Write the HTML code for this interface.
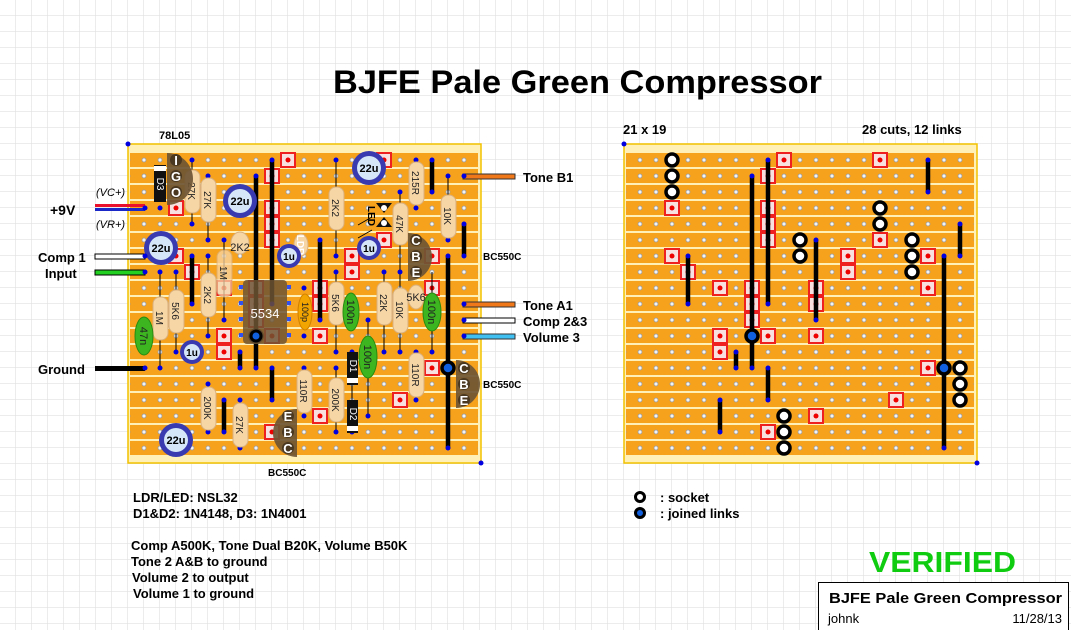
<!DOCTYPE html>
<html><head><meta charset="utf-8"><style>
html,body{margin:0;padding:0;background:#fff}
svg{display:block}
text{font-family:"Liberation Sans","DejaVu Sans",sans-serif}
.b{font-weight:bold}
.rt{font-size:10px;fill:#222}
.tl{font-size:13px;font-weight:bold;fill:#000}
</style></head><body>
<svg width="1071" height="630" viewBox="0 0 1071 630" xmlns="http://www.w3.org/2000/svg">
<defs>
<pattern id="grid" x="0" y="0" width="16" height="16" patternUnits="userSpaceOnUse">
<path d="M16 0V16H0" fill="none" stroke="#e0e0e0" stroke-width="1.2"/>
</pattern>
<pattern id="strip" x="0" y="153" width="16" height="16" patternUnits="userSpaceOnUse">
<rect x="0" y="0" width="16" height="14" fill="#f7a21c"/>
</pattern>
<pattern id="holes" x="136" y="152" width="16" height="16" patternUnits="userSpaceOnUse">
<circle cx="8" cy="8" r="2" fill="#f4f4f4" stroke="#999" stroke-width="0.8"/>
</pattern>
<g id="cut"><rect x="-7" y="-7" width="14" height="14" fill="#f8e0e0" stroke="#ee2020" stroke-width="2"/><circle r="2.5" fill="#e00"/></g>
<g id="sock"><circle r="6" fill="#fff" stroke="#000" stroke-width="3.5"/></g>
</defs>
<rect width="1071" height="630" fill="url(#grid)"/>

<!-- Boards -->
<g>
<rect x="128" y="144" width="353" height="319" fill="#fff0b8" stroke="#f2c200" stroke-width="1.5"/>
<rect x="130" y="153" width="348" height="302" fill="url(#strip)"/>
<rect x="130" y="153" width="348" height="302" fill="url(#holes)"/>
<circle cx="128" cy="144" r="2.5" fill="#0000e0"/><circle cx="481" cy="463" r="2.5" fill="#0000e0"/>

<rect x="624" y="144" width="353" height="319" fill="#fff0b8" stroke="#f2c200" stroke-width="1.5"/>
<rect x="626" y="153" width="348" height="302" fill="url(#strip)"/>
<rect x="626" y="153" width="348" height="302" fill="url(#holes)"/>
<circle cx="624" cy="144" r="2.5" fill="#0000e0"/><circle cx="977" cy="463" r="2.5" fill="#0000e0"/>
</g>

<!-- Cuts, links - right board (x offset 640), left (144) -->
<g id="cl">
<g>
<use href="#cut" x="784" y="160"/><use href="#cut" x="880" y="160"/>
<use href="#cut" x="768" y="176"/>
<use href="#cut" x="672" y="208"/><use href="#cut" x="768" y="208"/>
<use href="#cut" x="768" y="224"/>
<use href="#cut" x="768" y="240"/><use href="#cut" x="880" y="240"/>
<use href="#cut" x="672" y="256"/><use href="#cut" x="848" y="256"/><use href="#cut" x="928" y="256"/>
<use href="#cut" x="688" y="272"/><use href="#cut" x="848" y="272"/>
<use href="#cut" x="720" y="288"/><use href="#cut" x="752" y="288"/><use href="#cut" x="816" y="288"/><use href="#cut" x="928" y="288"/>
<use href="#cut" x="752" y="304"/><use href="#cut" x="816" y="304"/>
<use href="#cut" x="752" y="320"/>
<use href="#cut" x="720" y="336"/><use href="#cut" x="768" y="336"/><use href="#cut" x="816" y="336"/>
<use href="#cut" x="720" y="352"/>
<use href="#cut" x="928" y="368"/>
<use href="#cut" x="896" y="400"/>
<use href="#cut" x="816" y="416"/>
<use href="#cut" x="768" y="432"/>
</g>
<g stroke="#000" stroke-width="4.5">
<line x1="768" y1="160" x2="768" y2="304"/>
<line x1="752" y1="176" x2="752" y2="368"/>
<line x1="928" y1="160" x2="928" y2="192"/>
<line x1="960" y1="224" x2="960" y2="256"/>
<line x1="688" y1="256" x2="688" y2="304"/>
<line x1="816" y1="240" x2="816" y2="320"/>
<line x1="736" y1="352" x2="736" y2="368"/>
<line x1="768" y1="368" x2="768" y2="400"/>
<line x1="720" y1="400" x2="720" y2="432"/>
<line x1="944" y1="256" x2="944" y2="448"/>
</g>
<g fill="#0000e0">
<circle cx="768" cy="160" r="2.5"/><circle cx="768" cy="304" r="2.5"/>
<circle cx="752" cy="176" r="2.5"/><circle cx="752" cy="368" r="2.5"/>
<circle cx="928" cy="160" r="2.5"/><circle cx="928" cy="192" r="2.5"/>
<circle cx="960" cy="224" r="2.5"/><circle cx="960" cy="256" r="2.5"/>
<circle cx="688" cy="256" r="2.5"/><circle cx="688" cy="304" r="2.5"/>
<circle cx="816" cy="240" r="2.5"/><circle cx="816" cy="320" r="2.5"/>
<circle cx="736" cy="352" r="2.5"/><circle cx="736" cy="368" r="2.5"/>
<circle cx="768" cy="368" r="2.5"/><circle cx="768" cy="400" r="2.5"/>
<circle cx="720" cy="400" r="2.5"/><circle cx="720" cy="432" r="2.5"/>
<circle cx="944" cy="256" r="2.5"/><circle cx="944" cy="448" r="2.5"/>
</g>
<circle cx="752" cy="336" r="6" fill="#1060e0" stroke="#000" stroke-width="3.5"/>
<circle cx="944" cy="368" r="6" fill="#1060e0" stroke="#000" stroke-width="3.5"/>
</g>
<use href="#cl" x="-496" y="0"/>

<!-- Sockets right board -->
<use href="#sock" x="672" y="160"/><use href="#sock" x="672" y="176"/><use href="#sock" x="672" y="192"/>
<use href="#sock" x="880" y="208"/><use href="#sock" x="880" y="224"/>
<use href="#sock" x="800" y="240"/><use href="#sock" x="800" y="256"/>
<use href="#sock" x="912" y="240"/><use href="#sock" x="912" y="256"/><use href="#sock" x="912" y="272"/>
<use href="#sock" x="960" y="368"/><use href="#sock" x="960" y="384"/><use href="#sock" x="960" y="400"/>
<use href="#sock" x="784" y="416"/><use href="#sock" x="784" y="432"/><use href="#sock" x="784" y="448"/>

<!-- Left board components -->
<g stroke="#000" stroke-width="1">
<line x1="192" y1="160" x2="192" y2="224"/><line x1="208" y1="176" x2="208" y2="240"/>
<line x1="336" y1="160" x2="336" y2="256"/><line x1="400" y1="192" x2="400" y2="272"/>
<line x1="416" y1="160" x2="416" y2="208"/><line x1="448" y1="176" x2="448" y2="240"/>
<line x1="224" y1="240" x2="224" y2="320"/><line x1="208" y1="256" x2="208" y2="336"/>
<line x1="160" y1="272" x2="160" y2="368"/><line x1="176" y1="272" x2="176" y2="352"/>
<line x1="336" y1="272" x2="336" y2="352"/><line x1="384" y1="272" x2="384" y2="352"/>
<line x1="400" y1="272" x2="400" y2="352"/><line x1="416" y1="352" x2="416" y2="400"/>
<line x1="336" y1="368" x2="336" y2="432"/><line x1="304" y1="368" x2="304" y2="416"/>
<line x1="208" y1="384" x2="208" y2="432"/><line x1="240" y1="400" x2="240" y2="448"/>
<line x1="368" y1="320" x2="368" y2="416"/><line x1="352" y1="352" x2="352" y2="432"/>
<line x1="432" y1="272" x2="432" y2="352"/>
</g>
<g fill="#0000e0">
<circle cx="192" cy="160" r="2.5"/><circle cx="192" cy="224" r="2.5"/><circle cx="208" cy="176" r="2.5"/><circle cx="208" cy="240" r="2.5"/>
<circle cx="336" cy="160" r="2.5"/><circle cx="336" cy="256" r="2.5"/><circle cx="400" cy="192" r="2.5"/><circle cx="400" cy="272" r="2.5"/>
<circle cx="416" cy="160" r="2.5"/><circle cx="416" cy="208" r="2.5"/><circle cx="448" cy="176" r="2.5"/><circle cx="448" cy="240" r="2.5"/>
<circle cx="224" cy="240" r="2.5"/><circle cx="224" cy="320" r="2.5"/><circle cx="208" cy="256" r="2.5"/><circle cx="208" cy="336" r="2.5"/>
<circle cx="160" cy="272" r="2.5"/><circle cx="160" cy="368" r="2.5"/><circle cx="176" cy="272" r="2.5"/><circle cx="176" cy="352" r="2.5"/>
<circle cx="336" cy="272" r="2.5"/><circle cx="336" cy="352" r="2.5"/><circle cx="384" cy="272" r="2.5"/><circle cx="384" cy="352" r="2.5"/>
<circle cx="400" cy="352" r="2.5"/><circle cx="416" cy="352" r="2.5"/><circle cx="416" cy="400" r="2.5"/>
<circle cx="336" cy="368" r="2.5"/><circle cx="336" cy="432" r="2.5"/><circle cx="304" cy="368" r="2.5"/><circle cx="304" cy="416" r="2.5"/>
<circle cx="208" cy="384" r="2.5"/><circle cx="208" cy="432" r="2.5"/><circle cx="240" cy="400" r="2.5"/><circle cx="240" cy="448" r="2.5"/>
<circle cx="368" cy="320" r="2.5"/><circle cx="368" cy="416" r="2.5"/><circle cx="352" cy="352" r="2.5"/><circle cx="352" cy="432" r="2.5"/>
<circle cx="160" cy="208" r="2.5"/><circle cx="176" cy="160" r="2.5"/><circle cx="160" cy="256" r="2.5"/><circle cx="144" cy="320" r="2.5"/><circle cx="144" cy="352" r="2.5"/>
<circle cx="304" cy="288" r="2.5"/><circle cx="304" cy="336" r="2.5"/><circle cx="352" cy="304" r="2.5"/><circle cx="432" cy="352" r="2.5"/>
</g>

<!-- Resistors -->
<g fill="#f7d6a6" stroke="#d9b07c" stroke-width="1">
<rect x="185" y="170" width="15" height="43" rx="7"/>
<rect x="201" y="178" width="15" height="44" rx="7"/>
<rect x="329" y="187" width="15" height="43" rx="7"/>
<rect x="393" y="203" width="15" height="42" rx="7"/>
<rect x="409" y="162" width="15" height="43" rx="7"/>
<rect x="441" y="195" width="15" height="43" rx="7"/>
<rect x="217" y="250" width="15" height="47" rx="7" opacity="0.75"/>
<rect x="201" y="273" width="15" height="44" rx="7"/>
<rect x="153" y="297" width="15" height="43" rx="7"/>
<rect x="169" y="290" width="15" height="43" rx="7"/>
<rect x="329" y="282" width="15" height="43" rx="7"/>
<rect x="377" y="282" width="15" height="43" rx="7"/>
<rect x="393" y="288" width="15" height="45" rx="7"/>
<rect x="409" y="353" width="15" height="44" rx="7"/>
<rect x="329" y="378" width="15" height="44" rx="7"/>
<rect x="297" y="370" width="15" height="43" rx="7"/>
<rect x="201" y="387" width="15" height="43" rx="7"/>
<rect x="233" y="403" width="15" height="44" rx="7"/>
<ellipse cx="240" cy="243" rx="9" ry="11"/>
<ellipse cx="416" cy="297" rx="8" ry="12"/>
<ellipse cx="301" cy="245" rx="7" ry="11"/>
</g>
<g class="rt">
<text transform="translate(188,191) rotate(90)" text-anchor="middle">27K</text>
<text transform="translate(204,200) rotate(90)" text-anchor="middle">27K</text>
<text transform="translate(332,208) rotate(90)" text-anchor="middle">2K2</text>
<text transform="translate(396,224) rotate(90)" text-anchor="middle">47K</text>
<text transform="translate(412,183) rotate(90)" text-anchor="middle">215R</text>
<text transform="translate(444,216) rotate(90)" text-anchor="middle">10K</text>
<text transform="translate(220,273) rotate(90)" text-anchor="middle">1M</text>
<text transform="translate(204,295) rotate(90)" text-anchor="middle">2K2</text>
<text transform="translate(156,318) rotate(90)" text-anchor="middle">1M</text>
<text transform="translate(172,311) rotate(90)" text-anchor="middle">5K6</text>
<text transform="translate(332,303) rotate(90)" text-anchor="middle">5K6</text>
<text transform="translate(380,303) rotate(90)" text-anchor="middle">22K</text>
<text transform="translate(396,310) rotate(90)" text-anchor="middle">10K</text>
<text transform="translate(412,375) rotate(90)" text-anchor="middle">110R</text>
<text transform="translate(332,400) rotate(90)" text-anchor="middle">200K</text>
<text transform="translate(300,391) rotate(90)" text-anchor="middle">110R</text>
<text transform="translate(204,408) rotate(90)" text-anchor="middle">200K</text>
<text transform="translate(236,425) rotate(90)" text-anchor="middle">27K</text>
<text x="240" y="251" text-anchor="middle" style="font-size:11px">2K2</text>
<text x="416" y="301" text-anchor="middle" style="font-size:11px">5K6</text>
<text transform="translate(297,245) rotate(90)" text-anchor="middle" style="font-size:10px;fill:#fff;font-weight:bold">LDR</text>
</g>

<!-- IC -->
<rect x="243" y="280" width="44" height="64" rx="4" fill="#6e5534" opacity="0.85"/>
<g fill="#3050f0"><rect x="239" y="285" width="4" height="4"/><rect x="239" y="301" width="4" height="4"/><rect x="239" y="317" width="4" height="4"/><rect x="239" y="333" width="4" height="4"/>
<rect x="287" y="285" width="4" height="4"/><rect x="287" y="301" width="4" height="4"/><rect x="287" y="317" width="4" height="4"/><rect x="287" y="333" width="4" height="4"/></g>
<text x="265" y="318" text-anchor="middle" style="font-size:13px;fill:#fff">5534</text>
<circle cx="256" cy="336" r="5" fill="#1060e0" stroke="#000" stroke-width="3"/>

<!-- Ceramic caps -->
<g stroke="#2a8a10" stroke-width="1">
<ellipse cx="144" cy="336" rx="9" ry="19" fill="#3cb521"/>
<ellipse cx="351" cy="312" rx="8" ry="19" fill="#3cb521"/>
<ellipse cx="368" cy="357" rx="9" ry="21" fill="#3cb521"/>
<ellipse cx="432" cy="312" rx="9" ry="19" fill="#3cb521"/>
<ellipse cx="305" cy="312" rx="7" ry="18" fill="#f2a400" stroke="#d08000"/>
</g>
<g class="rt" style="font-size:11px">
<text transform="translate(140,336) rotate(90)" text-anchor="middle">47n</text>
<text transform="translate(347,312) rotate(90)" text-anchor="middle">100n</text>
<text transform="translate(364,357) rotate(90)" text-anchor="middle">100n</text>
<text transform="translate(428,312) rotate(90)" text-anchor="middle">100n</text>
<text transform="translate(302,312) rotate(90)" text-anchor="middle" style="font-size:9px">100p</text>
</g>

<!-- Electrolytics -->
<g>
<g transform="translate(240,201)"><circle r="17" fill="#3a3ab0"/><circle r="12" fill="#d4e6f7"/><text y="4" text-anchor="middle" class="b" style="font-size:11px">22u</text></g>
<g transform="translate(369,168)"><circle r="17" fill="#3a3ab0"/><circle r="12" fill="#d4e6f7"/><text y="4" text-anchor="middle" class="b" style="font-size:11px">22u</text></g>
<g transform="translate(161,248)"><circle r="17" fill="#3a3ab0"/><circle r="12" fill="#d4e6f7"/><text y="4" text-anchor="middle" class="b" style="font-size:11px">22u</text></g>
<g transform="translate(176,440)"><circle r="17" fill="#3a3ab0"/><circle r="12" fill="#d4e6f7"/><text y="4" text-anchor="middle" class="b" style="font-size:11px">22u</text></g>
<g transform="translate(289,256)"><circle r="12" fill="#3a3ab0"/><circle r="8" fill="#d4e6f7"/><text y="4" text-anchor="middle" class="b" style="font-size:10px">1u</text></g>
<g transform="translate(369,248)"><circle r="12" fill="#3a3ab0"/><circle r="8" fill="#d4e6f7"/><text y="4" text-anchor="middle" class="b" style="font-size:10px">1u</text></g>
<g transform="translate(192,352)"><circle r="12" fill="#3a3ab0"/><circle r="8" fill="#d4e6f7"/><text y="4" text-anchor="middle" class="b" style="font-size:10px">1u</text></g>
</g>

<!-- Diodes -->
<rect x="154" y="165" width="12" height="37" fill="#111"/><rect x="154" y="166" width="12" height="5" fill="#fff"/>
<text transform="translate(157,184) rotate(90)" text-anchor="middle" style="font-size:10px;fill:#fff">D3</text>
<rect x="347" y="352" width="11" height="33" fill="#111"/><rect x="347" y="378" width="11" height="5" fill="#fff"/>
<text transform="translate(350,366) rotate(90)" text-anchor="middle" style="font-size:10px;fill:#fff">D1</text>
<rect x="347" y="400" width="11" height="33" fill="#111"/><rect x="347" y="426" width="11" height="5" fill="#fff"/>
<text transform="translate(350,414) rotate(90)" text-anchor="middle" style="font-size:10px;fill:#fff">D2</text>

<!-- LED -->
<path d="M376 203 L392 203 L384 213 Z M376 227 L392 227 L384 217 Z" fill="#111"/>
<circle cx="384" cy="208" r="3" fill="#fff"/><circle cx="384" cy="223" r="3" fill="#fff"/>
<text transform="translate(368,206) rotate(90)" class="b" style="font-size:10px">LED</text>
<path d="M372 217 L358 225 M372 230 L358 238" stroke="#000" stroke-width="0.8"/>

<!-- Transistors / regulator -->
<g fill="#6e5534" opacity="0.92">
<path d="M167 153 A26 26 0 0 1 167 205 Z"/>
<path d="M408 233 A24 24 0 0 1 408 281 Z"/>
<path d="M456 360 A24 24 0 0 1 456 408 Z"/>
<path d="M297 409 A24 24 0 0 0 297 457 Z"/>
</g>
<g fill="#4a3820"><circle cx="176" cy="160" r="6"/><circle cx="176" cy="176" r="6"/><circle cx="176" cy="192" r="6"/>
<circle cx="416" cy="240" r="6"/><circle cx="416" cy="256" r="6"/><circle cx="416" cy="272" r="6"/>
<circle cx="464" cy="368" r="6"/><circle cx="464" cy="384" r="6"/><circle cx="464" cy="400" r="6"/>
<circle cx="288" cy="416" r="6"/><circle cx="288" cy="432" r="6"/><circle cx="288" cy="448" r="6"/></g>
<g fill="#fff" class="b" style="font-size:13px" text-anchor="middle">
<text x="176" y="165">I</text><text x="176" y="181">G</text><text x="176" y="197">O</text>
<text x="416" y="245">C</text><text x="416" y="261">B</text><text x="416" y="277">E</text>
<text x="464" y="373">C</text><text x="464" y="389">B</text><text x="464" y="405">E</text>
<text x="288" y="421">E</text><text x="288" y="437">B</text><text x="288" y="453">C</text>
</g>

<!-- Off-board wires -->
<rect x="95" y="204" width="50" height="3" fill="#e8102a"/><rect x="95" y="208" width="50" height="3" fill="#1a28c8"/>
<rect x="95" y="254" width="50" height="5" fill="#fff" stroke="#000" stroke-width="1"/>
<rect x="95" y="270" width="50" height="5" fill="#22d022" stroke="#000" stroke-width="1"/>
<rect x="95" y="366" width="50" height="5" fill="#000"/>
<rect x="463" y="174" width="52" height="5" fill="#f07818" stroke="#333" stroke-width="1"/>
<rect x="463" y="302" width="52" height="5" fill="#f07818" stroke="#333" stroke-width="1"/>
<rect x="463" y="318" width="52" height="5" fill="#fff" stroke="#000" stroke-width="1"/>
<rect x="463" y="334" width="52" height="5" fill="#40c0f0" stroke="#333" stroke-width="1"/>
<g fill="#0000e0"><circle cx="145" cy="208" r="2.5"/><circle cx="145" cy="256" r="2.5"/><circle cx="145" cy="272" r="2.5"/><circle cx="145" cy="368" r="2.5"/>
<circle cx="464" cy="176" r="2.5"/><circle cx="464" cy="304" r="2.5"/><circle cx="464" cy="320" r="2.5"/><circle cx="464" cy="336" r="2.5"/></g>

<!-- Labels -->
<text x="333" y="93" class="b" style="font-size:32px" textLength="489" lengthAdjust="spacingAndGlyphs">BJFE Pale Green Compressor</text>
<text x="159" y="139" class="b" style="font-size:11px">78L05</text>
<text x="96" y="196" style="font-size:11px;font-style:italic">(VC+)</text>
<text x="96" y="228" style="font-size:11px;font-style:italic">(VR+)</text>
<text x="50" y="215" class="tl" style="font-size:14px">+9V</text>
<text x="38" y="262" class="tl">Comp 1</text>
<text x="45" y="278" class="tl">Input</text>
<text x="38" y="374" class="tl">Ground</text>
<text x="523" y="182" class="tl">Tone B1</text>
<text x="483" y="260" class="b" style="font-size:10px">BC550C</text>
<text x="523" y="310" class="tl">Tone A1</text>
<text x="523" y="326" class="tl">Comp 2&amp;3</text>
<text x="523" y="342" class="tl">Volume 3</text>
<text x="483" y="388" class="b" style="font-size:10px">BC550C</text>
<text x="268" y="476" class="b" style="font-size:10px">BC550C</text>
<text x="623" y="134" class="tl">21 x 19</text>
<text x="862" y="134" class="tl">28 cuts, 12 links</text>

<g class="tl">
<text x="133" y="502">LDR/LED: NSL32</text>
<text x="133" y="518">D1&amp;D2: 1N4148, D3: 1N4001</text>
<text x="131" y="550">Comp A500K, Tone Dual B20K, Volume B50K</text>
<text x="131" y="566">Tone 2 A&amp;B to ground</text>
<text x="132" y="582">Volume 2 to output</text>
<text x="133" y="598">Volume 1 to ground</text>
<text x="660" y="502">: socket</text>
<text x="660" y="518">: joined links</text>
</g>
<circle cx="640" cy="497" r="4.5" fill="#fff" stroke="#000" stroke-width="3"/>
<circle cx="640" cy="513" r="4.5" fill="#1060e0" stroke="#000" stroke-width="3"/>

<text x="869" y="572" class="b" style="font-size:29px;fill:#10cc10" textLength="147" lengthAdjust="spacingAndGlyphs">VERIFIED</text>
<rect x="818.5" y="582.5" width="250" height="50" fill="#fff" stroke="#000" stroke-width="1"/>
<text x="829" y="603" class="b" style="font-size:15px" textLength="233" lengthAdjust="spacingAndGlyphs">BJFE  Pale Green Compressor</text>
<text x="828" y="623" style="font-size:13px">johnk</text>
<text x="1062" y="623" style="font-size:13px" text-anchor="end">11/28/13</text>
</svg>
</body></html>
